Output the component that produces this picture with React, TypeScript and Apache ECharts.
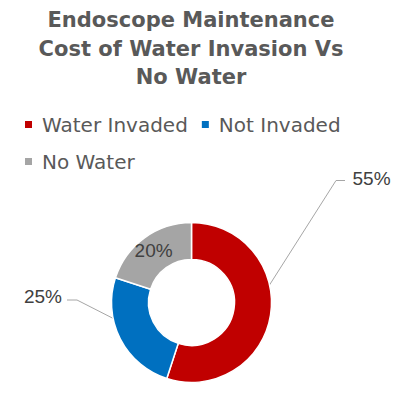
import React, { useEffect, useRef } from "react";
import * as echarts from "echarts";

const titleLines = ["Endoscope Maintenance", "Cost of Water Invasion Vs", "No Water"];
const categories = ["Water Invaded", "Not Invaded", "No Water"];
const values = [55, 25, 20];
const colors = ["#C00000", "#0070C0", "#A5A5A5"];

const CX = 191.5;
const CY = 302.5;
const R_IN = 43;
const R_OUT = 80;

function midPoint(idx: number): number[] {
  const total = values.reduce((a, b) => a + b, 0);
  let start = 90;
  for (let i = 0; i < idx; i++) start -= (values[i] / total) * 360;
  const mid = start - ((values[idx] / total) * 360) / 2;
  const rad = (mid * Math.PI) / 180;
  const r = (R_IN + R_OUT) / 2;
  return [CX + r * Math.cos(rad), CY - r * Math.sin(rad)];
}

export default function App() {
  const ref = useRef<HTMLDivElement>(null);
  useEffect(() => {
    if (!ref.current) return;
    const chart = echarts.init(ref.current, undefined, { renderer: "svg" });
    chart.setOption({
      animation: false,
      backgroundColor: "#ffffff",
      title: {
        text: titleLines.join("\n"),
        left: 191,
        top: 6,
        textAlign: "center",
        padding: 0,
        textStyle: {
          fontFamily: "DejaVu Sans",
          fontWeight: "bold",
          fontSize: 21,
          lineHeight: 28.5,
          color: "#595959",
        },
      },
      legend: {
        left: 23,
        top: 112,
        width: 330,
        itemWidth: 9,
        itemHeight: 9,
        itemGap: 12,
        icon: "rect",
        padding: 0,
        data: categories,
        textStyle: {
          fontFamily: "DejaVu Sans",
          fontSize: 20,
          lineHeight: 25,
          color: "#595959",
          padding: [0, 0, 0, 4],
        },
      },
      series: [
        {
          type: "pie",
          center: [CX, CY],
          radius: [R_IN, R_OUT],
          startAngle: 90,
          clockwise: true,
          itemStyle: { borderColor: "#ffffff", borderWidth: 1.5 },
          label: {
            show: true,
            position: "outside",
            formatter: "{d}%",
            fontFamily: "Liberation Sans",
            fontSize: 19,
            color: "#404040",
          },
          labelLine: {
            show: true,
            lineStyle: { color: "#A6A6A6", width: 1 },
          },
          labelLayout: (params: any) => {
            const i = params.dataIndex;
            if (i === 0) {
              return {
                x: 352.5,
                y: 178,
                align: "left",
                verticalAlign: "middle",
                labelLinePoints: [midPoint(0), [336, 180.5], [345, 180.5]],
              };
            }
            if (i === 1) {
              return {
                x: 62,
                y: 296,
                align: "right",
                verticalAlign: "middle",
                labelLinePoints: [midPoint(1), [77, 300], [67, 300]],
              };
            }
            return {};
          },
          data: categories.map((name, i) => ({
            name,
            value: values[i],
            itemStyle: { color: colors[i] },
            ...(i === 2
              ? { label: { position: "inside" }, labelLine: { show: false } }
              : {}),
          })),
        },
      ],
    });
    return () => chart.dispose();
  }, []);
  return (
    <div
      ref={ref}
      style={{ position: "absolute", left: 0, top: 0, width: 396, height: 396 }}
    />
  );
}
